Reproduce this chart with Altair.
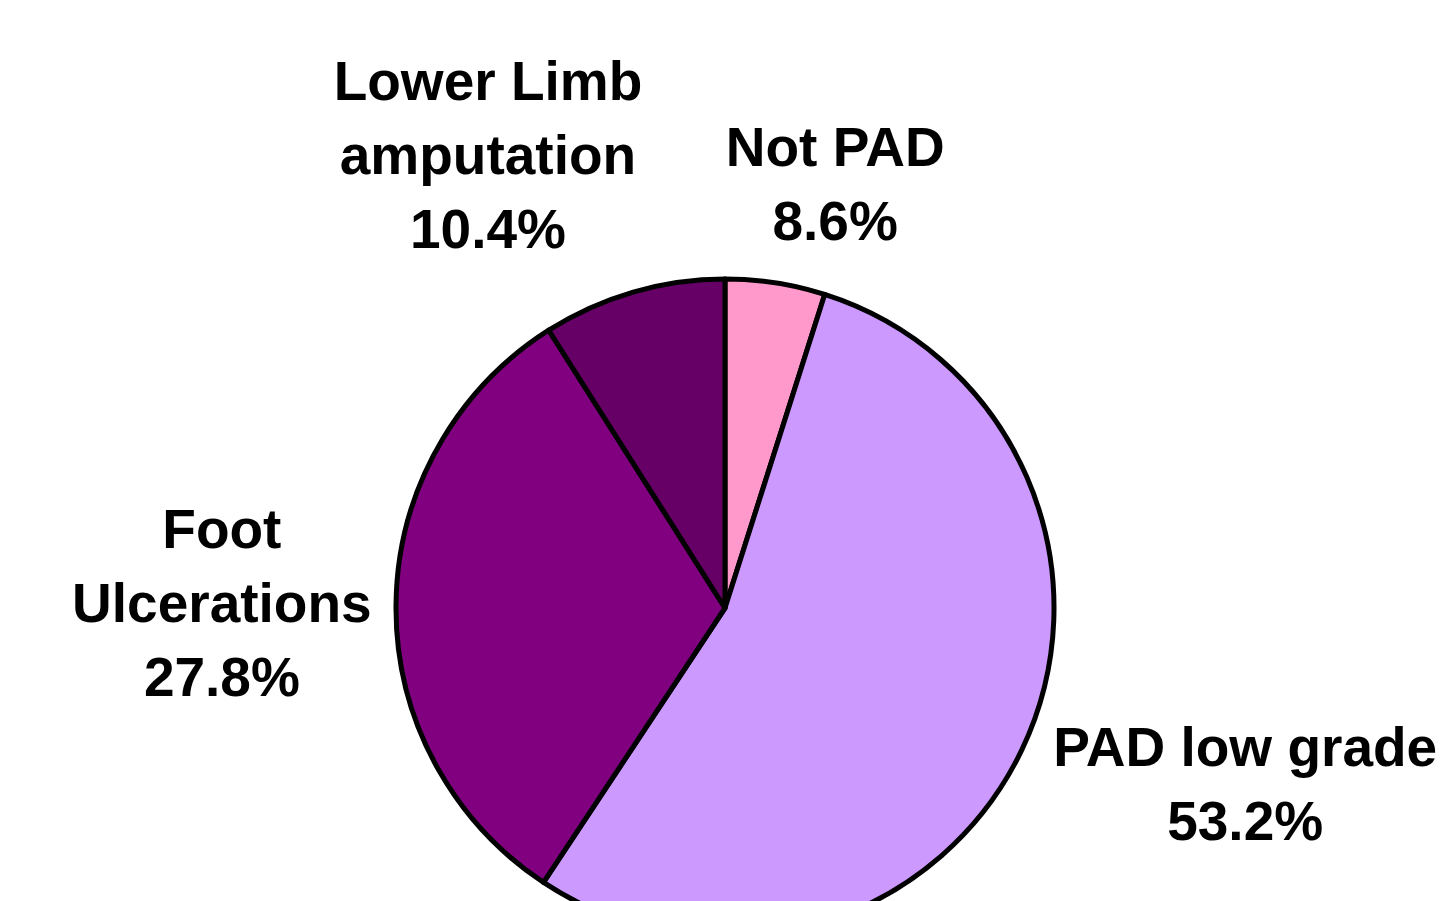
import math
import altair as alt
import pandas as pd

# Slice data (clockwise from 12 o'clock), proportions as drawn in the reference
categories = ["Not PAD", "PAD low grade", "Foot Ulcerations", "Lower Limb amputation"]
drawn_share = [4.9, 54.4, 31.7, 9.0]
pct_labels = ["8.6%", "53.2%", "27.8%", "10.4%"]
label_names = ["Not PAD", "PAD low grade", "Foot\nUlcerations", "Lower Limb\namputation"]
colors = ["#FF99CC", "#CC99FF", "#800080", "#660066"]

# Label placement (first line centre, polar relative to pie centre):
# angle in degrees clockwise from top, radius in px
label_angle_deg = [13.5, 105.2, 278.7, 335.7]
label_radius_px = [472, 539, 509, 576]

slices = pd.DataFrame({
    "category": categories,
    "share": drawn_share,
    "order": list(range(len(categories))),
})

labels = pd.DataFrame({
    "category": categories,
    "label": [f"{n}\n{p}" for n, p in zip(label_names, pct_labels)],
    "theta_rad": [math.radians(a) for a in label_angle_deg],
    "r": label_radius_px,
})

CX, CY = 717, 600

pie = alt.Chart(slices).mark_arc(
    outerRadius=329, stroke="black", strokeWidth=5, strokeJoin="round"
).encode(
    theta=alt.Theta("share:Q", stack=True),
    color=alt.Color("category:N", scale=alt.Scale(domain=categories, range=colors), legend=None),
    order=alt.Order("order:Q"),
    x=alt.value(CX),
    y=alt.value(CY),
)

text = alt.Chart(labels).transform_calculate(
    lines="split(datum.label, '\\n')"
).mark_text(
    font="Liberation Sans", fontWeight="bold", fontSize=55, lineHeight=74,
    align="center", baseline="middle", color="black"
).encode(
    theta=alt.Theta("theta_rad:Q", scale=None, stack=None),
    radius=alt.Radius("r:Q", scale=None),
    text=alt.Text("lines:N"),
    x=alt.value(CX),
    y=alt.value(CY),
)

chart = alt.layer(pie, text).properties(
    width=1440, height=893,
    autosize=alt.AutoSizeParams(type="none"),
    padding=0,
).configure(
    background="white",
    view=alt.ViewConfig(stroke=None),
)

chart.save("out.html", embed_options={"renderer": "svg", "actions": False})
